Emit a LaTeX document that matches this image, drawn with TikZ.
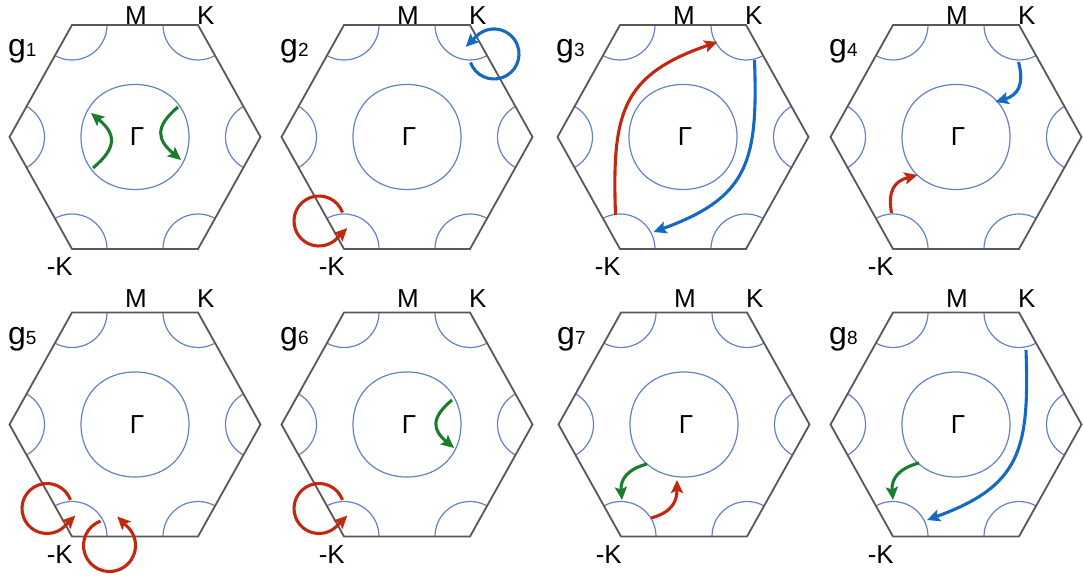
\documentclass[tikz,border=0pt]{standalone}
\usepackage{fontspec}
\setmainfont{Liberation Sans}
\usetikzlibrary{arrows.meta}

\definecolor{zonegray}{RGB}{88,88,88}
\definecolor{fermiblue}{RGB}{100,130,195}
\definecolor{hopgreen}{RGB}{25,125,45}
\definecolor{hopred}{RGB}{195,40,15}
\definecolor{hopblue}{RGB}{20,105,195}

\tikzset{
	zone/.style={draw=zonegray,line width=1.8pt},
	fermi/.style={draw=fermiblue,line width=1.2pt},
	lbl/.style={inner sep=0pt,font=\fontsize{26}{26}\selectfont},
	hop/.style={->,line width=3.1pt},
}

\begin{document}
\begin{tikzpicture}[x=1pt,y=1pt,>={Stealth[length=13pt,width=12pt,inset=2.5pt]}]
	\useasboundingbox (0,0) rectangle (1083,580);
	
	%Brillouin zones
	\foreach \n/\cx/\cy/\dm in {1/135/443/0,2/407/443/0,3/683/443/0,4/956/443/0,5/135/155.5/5,6/407/155.5/5,7/684/155.5/5,8/956/155.5/5}{
		\coordinate (G\n) at (\cx,\cy);
		\begin{scope}[shift={(G\n)}]
			\begin{scope}
				\clip (125.5,0)--(63,112)--(-63,112)--(-125.5,0)--(-63,-112)--(63,-112)--cycle;
				\foreach \vx/\vy in {125.5/0,63/112,-63/112,-125.5/0,-63/-112,63/-112}
				\draw[fermi] (\vx,\vy) circle (35);
			\end{scope}
			\draw[fermi] plot[domain=0:358,samples=180,smooth cycle,variable=\t] ({(54.5-0.5*cos(4*\t))*cos(\t)},{(53-0.5*cos(4*\t))*sin(\t)});
			\draw[zone] (125.5,0)--(63,112)--(-63,112)--(-125.5,0)--(-63,-112)--(63,-112)--cycle;
			%labels
			\node[lbl] (gam\n) at (2,0) {Γ};
			\node[lbl,anchor=base] (M\n) at (1,112+\dm) {M};
			\node[lbl,anchor=base west] (K\n) at (62,112+\dm) {K};
			\node[lbl,anchor=base east] (mK\n) at (-62,-139) {-K};
			\node[anchor=base west,inner sep=0pt] (g\n) at (-127,80) {\fontsize{32}{32}\selectfont g\fontsize{19}{19}\selectfont\n};
		\end{scope}
	}
	
	%g1
	\begin{scope}[shift={(G1)}]
		\draw[hop,hopgreen] (-42,-31) to[out=40,in=-40,looseness=1.5] (-44,24);
		\draw[hop,hopgreen] (43,30) to[out=-140,in=140,looseness=1.5] (46,-23);
	\end{scope}
	
	%g2
	\begin{scope}[shift={(G2)}]
		\draw[hop,hopblue] (87,83) ++(200:25) arc[start angle=200,end angle=495,radius=25] -- ++(225:15);
		\draw[hop,hopred] (-88,-84) ++(20:25) arc[start angle=20,end angle=315,radius=25] -- ++(45:15);
	\end{scope}
	
	%g3
	\begin{scope}[shift={(G3)}]
		\draw[hop,hopred] (-67.5,-78) to[out=92,in=199,looseness=1.3] (34.5,95);
		\draw[hop,hopblue] (71.5,77) to[out=-88,in=20,looseness=1.3] (-29.5,-95);
	\end{scope}
	
	%g4
	\begin{scope}[shift={(G4)}]
		\draw[hop,hopblue] (62.5,75) to[out=-75,in=17,looseness=1.3] (39.5,35);
		\draw[hop,hopred] (-64.5,-76) to[out=100,in=195,looseness=1.3] (-38.5,-38);
	\end{scope}
	
	%g5
	\begin{scope}[shift={(G5)}]
		\draw[hop,hopred] (-88,-84) ++(20:25) arc[start angle=20,end angle=315,radius=25] -- ++(45:15);
		\draw[hop,hopred] (-25.5,-121) ++(110:26) arc[start angle=110,end angle=405,radius=26] -- ++(135:15);
	\end{scope}
	
	%g6
	\begin{scope}[shift={(G6)}]
		\draw[hop,hopgreen] (45,24.5) to[out=-140,in=140,looseness=1.5] (47,-23.5);
		\draw[hop,hopred] (-88,-84) ++(20:25) arc[start angle=20,end angle=315,radius=25] -- ++(45:15);
	\end{scope}
	
	%g7
	\begin{scope}[shift={(G7)}]
		\draw[hop,hopgreen] (-37,-39.5) to[out=195,in=95,looseness=1.2] (-62,-75.5);
		\draw[hop,hopred] (-33,-93.5) to[out=15,in=-90,looseness=1.2] (-7,-55.5);
	\end{scope}
	
	%g8
	\begin{scope}[shift={(G8)}]
		\draw[hop,hopgreen] (-37,-38.5) to[out=195,in=95,looseness=1.2] (-63,-75.5);
		\draw[hop,hopblue] (70,74.5) to[out=-88,in=20,looseness=1.3] (-29,-95.5);
	\end{scope}
\end{tikzpicture}
\end{document}
